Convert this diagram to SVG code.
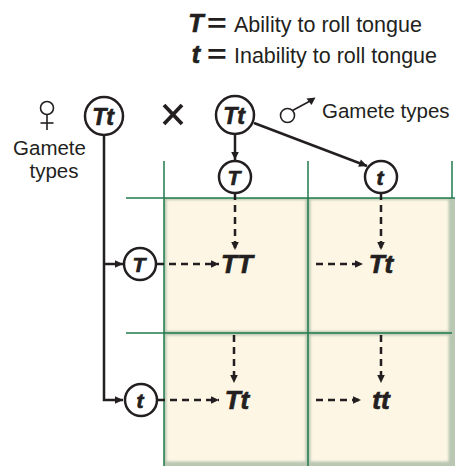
<svg xmlns="http://www.w3.org/2000/svg" width="455" height="466" viewBox="0 0 455 466">
<style>
.lbl{font-family:"Liberation Sans",Arial,sans-serif;fill:#231f20}
.gen{font-family:"Liberation Sans",Arial,sans-serif;font-weight:bold;font-style:italic;fill:#231f20;stroke:#231f20;stroke-width:0.7;text-anchor:middle}
.eq{font-family:"Liberation Sans",Arial,sans-serif;font-weight:bold;fill:#231f20}
.circ{fill:#fff;stroke:#231f20;stroke-width:2.5}
.solid{fill:none;stroke:#231f20;stroke-width:2.5}
.dash{fill:none;stroke:#231f20;stroke-width:2.5;stroke-dasharray:7 5}
.grid{stroke:#1f7a4d;stroke-width:1.5;fill:none}
.cellbg{fill:#b9c7b3}
.cellin{fill:#fdf6e4;filter:url(#soft)}
</style>
<defs>
<filter id="soft" x="-5%" y="-5%" width="110%" height="110%"><feGaussianBlur stdDeviation="1.3"/></filter>
<marker id="ah" markerUnits="userSpaceOnUse" markerWidth="10" markerHeight="10" viewBox="0 0 10 10" refX="9" refY="5" orient="auto">
<path d="M1,1.2 L9,5 L1,8.8 Z" fill="#231f20"/>
</marker>
</defs>
<rect width="455" height="466" fill="#fff"/>
<g id="punnett-cells">
<rect class="cellbg" x="164" y="198" width="144" height="135"/>
<rect class="cellin" x="166.5" y="200" width="139" height="131"/>
<rect class="cellbg" x="308" y="198" width="147" height="135"/>
<rect class="cellin" x="310.5" y="200" width="138" height="131"/>
<rect class="cellbg" x="164" y="333" width="144" height="133"/>
<rect class="cellin" x="166.5" y="335.5" width="139" height="126"/>
<rect class="cellbg" x="308" y="333" width="147" height="133"/>
<rect class="cellin" x="310.5" y="335.5" width="138" height="126"/>
</g>
<g id="grid-lines">
<line class="grid" x1="126" y1="198" x2="455" y2="198"/>
<line class="grid" x1="126" y1="333" x2="452" y2="333"/>
<line class="grid" x1="164" y1="161" x2="164" y2="466"/>
<line class="grid" x1="308" y1="161" x2="308" y2="466"/>
<line class="grid" x1="452" y1="161" x2="452" y2="198"/>
</g>
<g id="legend">
<text class="gen" x="196" y="32" font-size="25">T</text>
<text class="eq" transform="translate(207,32) scale(1.3,1)" font-size="26">=</text>
<text class="lbl" x="234" y="32" font-size="21.5" textLength="188">Ability to roll tongue</text>
<text class="gen" x="196" y="63" font-size="25">t</text>
<text class="eq" transform="translate(207,63) scale(1.3,1)" font-size="26">=</text>
<text class="lbl" x="234" y="63" font-size="21.5" textLength="203">Inability to roll tongue</text>
</g>
<g id="connectors">
<path class="solid" d="M104,135 V400 H123" marker-end="url(#ah)"/>
<path class="solid" d="M104,264 H123" marker-end="url(#ah)"/>
<path class="solid" d="M235,134 V160" marker-end="url(#ah)"/>
<path class="solid" d="M254,123 L367,166" marker-end="url(#ah)"/>
<path class="dash" d="M235,193 V250" marker-end="url(#ah)"/>
<path class="dash" d="M381,193 V250" marker-end="url(#ah)"/>
<path class="dash" d="M157,264 H219" marker-end="url(#ah)"/>
<path class="dash" d="M316,264 H363" marker-end="url(#ah)"/>
<path class="dash" d="M234,335 V383" marker-end="url(#ah)"/>
<path class="dash" d="M381,335 V383" marker-end="url(#ah)"/>
<path class="dash" d="M158,400 H219" marker-end="url(#ah)"/>
<path class="dash" d="M316,400 H361" marker-end="url(#ah)"/>
</g>
<g id="female-label">
<circle cx="47" cy="108" r="6.5" fill="none" stroke="#231f20" stroke-width="1.6"/>
<line x1="47" y1="114.5" x2="47" y2="130" stroke="#231f20" stroke-width="1.6"/>
<line x1="40.5" y1="123" x2="53.5" y2="123" stroke="#231f20" stroke-width="1.6"/>
<text class="lbl" x="49.5" y="155" font-size="20.5" text-anchor="middle">Gamete</text>
<text class="lbl" x="54" y="178" font-size="20.5" text-anchor="middle">types</text>
</g>
<g id="cross">
<line x1="164" y1="105" x2="182" y2="124" stroke="#231f20" stroke-width="3.8"/>
<line x1="182" y1="105" x2="164" y2="124" stroke="#231f20" stroke-width="3.8"/>
</g>
<g id="male-label">
<circle cx="287.5" cy="115.5" r="7" fill="none" stroke="#231f20" stroke-width="1.6"/>
<line x1="292.5" y1="110.5" x2="311" y2="100.5" stroke="#231f20" stroke-width="1.6"/>
<path d="M315.5,97.5 L306.5,98.5 L311.5,105 Z" fill="#231f20"/>
<text class="lbl" x="322" y="118" font-size="20.5">Gamete types</text>
</g>
<g id="female-parent">
<circle class="circ" cx="104" cy="116" r="19"/>
<text class="gen" x="103" y="124.5" font-size="23">Tt</text>
</g>
<g id="male-parent">
<circle class="circ" cx="235" cy="115" r="19"/>
<text class="gen" x="234" y="123.5" font-size="23">Tt</text>
</g>
<g id="male-gamete-T">
<circle class="circ" cx="235" cy="177" r="16"/>
<text class="gen" x="234" y="185" font-size="21">T</text>
</g>
<g id="male-gamete-t">
<circle class="circ" cx="381" cy="177" r="16"/>
<text class="gen" x="380" y="185" font-size="21">t</text>
</g>
<g id="female-gamete-T">
<circle class="circ" cx="140" cy="264" r="16"/>
<text class="gen" x="139" y="272" font-size="21">T</text>
</g>
<g id="female-gamete-t">
<circle class="circ" cx="141" cy="400" r="16"/>
<text class="gen" x="140" y="408" font-size="21">t</text>
</g>
<g id="cell-TT"><text class="gen" x="237" y="273" font-size="26">TT</text></g>
<g id="cell-Tt-1"><text class="gen" x="381" y="273" font-size="26">Tt</text></g>
<g id="cell-Tt-2"><text class="gen" x="237" y="409" font-size="26">Tt</text></g>
<g id="cell-tt"><text class="gen" x="381" y="409" font-size="26">tt</text></g>
</svg>
